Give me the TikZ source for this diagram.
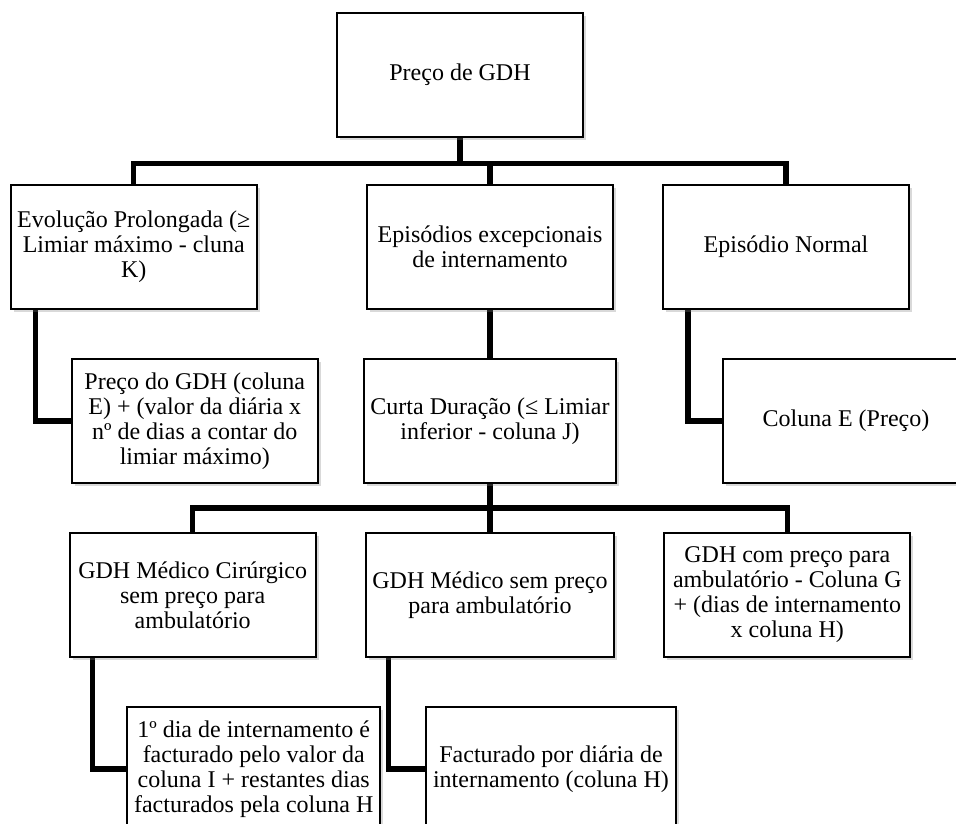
\documentclass[tikz,border=0pt]{standalone}
\usepackage{fontspec}
\setmainfont{Liberation Serif}
\usepackage{tikz}
\usetikzlibrary{positioning, calc, backgrounds, shadows}

\tikzset{
  % Connector lines
  myline/.style={line width=2.6pt, draw=black, line cap=rect},
}

\begin{document}
\begin{tikzpicture}[
  x=0.5pt, y=-0.5pt,
  node distance=24pt and 24pt,
  gdhbox/.style={rectangle, minimum width=123pt, minimum height=62pt,
    draw=black, line width=1pt, fill=white, align=center,
    font=\fontsize{12}{12.5}\selectfont,
    drop shadow={shadow xshift=1.5pt, shadow yshift=-1.5pt, opacity=0.3}},
]
  \useasboundingbox (0,0) rectangle (956,823);

  % Top
  \node[gdhbox] (root) at (460,75) {Preço de GDH};

  % First level
  \node[gdhbox, below=23pt of root, xshift=15pt] (epis) {Episódios excepcionais\\de internamento};
  \node[gdhbox, left=54pt of epis] (evol) {Evolução Prolongada (≥\\Limiar máximo - cluna\\K)};
  \node[gdhbox, right=of epis] (normal) {Episódio Normal};

  % Second level
  \node[gdhbox, below=of epis] (curta) {Curta Duração (≤ Limiar\\inferior - coluna J)};
  \node[gdhbox, below=of evol, xshift=30.5pt] (preco) {Preço do GDH (coluna\\E) + (valor da diária x\\nº de dias a contar do\\limiar máximo)};
  \node[gdhbox, below=of normal, xshift=30pt] (colE) {Coluna E (Preço)};

  % Third level
  \node[gdhbox, below=of curta] (gdhm) {GDH Médico sem preço\\para ambulatório};
  \node[gdhbox, left=of gdhm] (gdhmc) {GDH Médico Cirúrgico\\sem preço para\\ambulatório};
  \node[gdhbox, right=of gdhm] (gdhamb) {GDH com preço para\\ambulatório - Coluna G\\+ (dias de internamento\\x coluna H)};

  % Fourth level
  \node[gdhbox, below=of gdhmc, xshift=30.5pt] (dia1) {1º dia de internamento é\\facturado pelo valor da\\coluna I + restantes dias\\facturados pela coluna H};
  \node[gdhbox, below=of gdhm, xshift=30.5pt] (fact) {Facturado por diária de\\internamento (coluna H)};

  % Connectors
  \begin{scope}[on background layer]
    \coordinate (bus1) at ($(root.south)!0.55!(epis.north)$);
    \draw[myline] (root.south) -- (root.south |- bus1);
    \draw[myline] (evol.north) |- (normal.north |- bus1) -- (normal.north);
    \draw[myline] (epis.north) -- (epis.north |- bus1);
    \draw[myline] ([xshift=13pt]evol.south west) |- (preco.west);
    \draw[myline] ([xshift=13pt]normal.south west) |- (colE.west);
    \draw[myline] (epis.south) -- (curta.north);
    \coordinate (bus2) at ($(curta.south)!0.5!(gdhm.north)$);
    \draw[myline] (curta.south) -- (gdhm.north);
    \draw[myline] (gdhmc.north) |- (gdhamb.north |- bus2) -- (gdhamb.north);
    \draw[myline] ([xshift=12pt]gdhmc.south west) |- (dia1.west);
    \draw[myline] ([xshift=12pt]gdhm.south west) |- (fact.west);
  \end{scope}

\end{tikzpicture}
\end{document}
